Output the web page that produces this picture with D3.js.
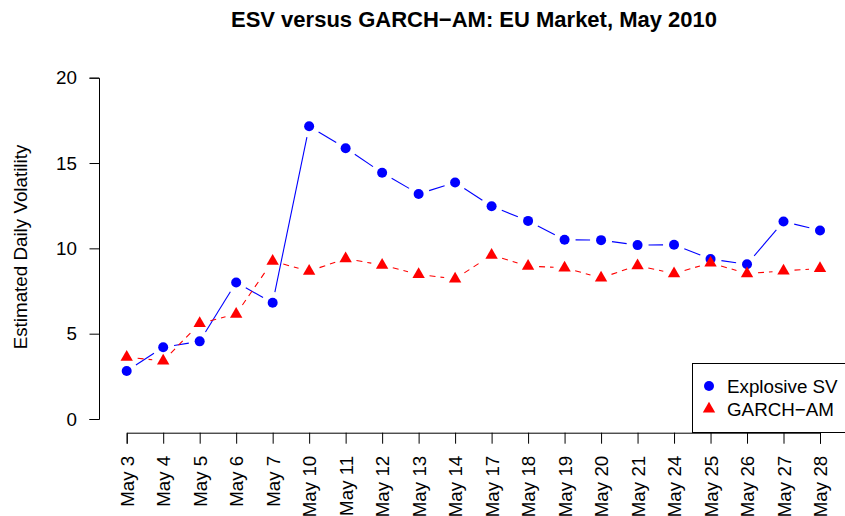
<!DOCTYPE html>
<html>
<head>
<meta charset="utf-8">
<script src="https://cdn.jsdelivr.net/npm/d3@7"></script>
<style>
  html, body { margin: 0; padding: 0; background: #fff; }
  svg { display: block; font-family: "Liberation Sans", Arial, Helvetica, sans-serif; }
</style>
</head>
<body>
<svg id="chart" width="845" height="516"></svg>
<script>
const categories = ["May 3","May 4","May 5","May 6","May 7","May 10","May 11","May 12","May 13","May 14",
  "May 17","May 18","May 19","May 20","May 21","May 24","May 25","May 26","May 27","May 28"];
const esvValues = [2.81, 4.20, 4.55, 8.00, 6.81, 17.15, 15.87, 14.43, 13.19, 13.86,
  12.47, 11.61, 10.50, 10.48, 10.19, 10.21, 9.37, 9.07, 11.57, 11.05];
const garchValues = [3.63, 3.40, 5.60, 6.15, 9.25, 8.66, 9.40, 9.02, 8.47, 8.21,
  9.60, 8.96, 8.86, 8.27, 8.99, 8.52, 9.15, 8.52, 8.68, 8.82];
const yTicks = [0, 5, 10, 15, 20];
const seriesNames = ["Explosive SV", "GARCH\u2212AM"];
const titleText = "ESV versus GARCH\u2212AM: EU Market, May 2010";
const yLabelText = "Estimated Daily Volatility";

const FS = "18.8px";
const svg = d3.select("#chart");
const x = d3.scalePoint().domain(categories).range([126.7, 820]);
const y = d3.scaleLinear().domain([0, 20]).range([419, 77.7]);

// Title
svg.append("text").attr("x", 474).attr("y", 27).attr("text-anchor", "middle")
  .style("font-weight", "bold").style("font-size", "22px").text(titleText);

// Y label
svg.append("text").attr("transform", "translate(27,247) rotate(-90)")
  .attr("text-anchor", "middle").style("font-size", FS).text(yLabelText);

// Y axis
const yAxis = svg.append("g").attr("transform", "translate(99,0)")
  .call(d3.axisLeft(y).tickValues(yTicks).tickSizeOuter(0).tickSize(9.5).tickPadding(12.5));
yAxis.selectAll("text").style("font-size", FS).style("font-family", "inherit").attr("fill", "#000");

// X axis
const xAxis = svg.append("g").attr("transform", "translate(0,432.7)")
  .call(d3.axisBottom(x).tickSizeOuter(0).tickSize(11));
xAxis.selectAll("text").style("font-size", FS).style("font-family", "inherit").attr("fill", "#000")
  .attr("text-anchor", "end").attr("transform", "rotate(-90)")
  .attr("x", -23).attr("y", 0).attr("dy", "0.35em");
svg.selectAll(".domain, .tick line").attr("stroke", "#000").attr("stroke-width", 1);

// Lines with gaps (type = "b")
const gap = 11;
function drawSegs(vals, color, dash) {
  const pts = vals.map((v, i) => [x(categories[i]), y(v)]);
  const segs = [];
  for (let i = 0; i < pts.length - 1; i++) {
    const [x0, y0] = pts[i], [x1, y1] = pts[i + 1];
    const dx = x1 - x0, dy = y1 - y0, L = Math.hypot(dx, dy);
    if (L > 2 * gap) {
      const ux = dx / L, uy = dy / L;
      segs.push([x0 + ux * gap, y0 + uy * gap, x1 - ux * gap, y1 - uy * gap]);
    }
  }
  svg.append("g").selectAll("line").data(segs).join("line")
    .attr("x1", d => d[0]).attr("y1", d => d[1]).attr("x2", d => d[2]).attr("y2", d => d[3])
    .attr("stroke", color).attr("stroke-width", 1.1)
    .attr("stroke-dasharray", dash);
}
drawSegs(esvValues, "#0000ff", null);
drawSegs(garchValues, "#ff0000", "6,5");

const r = 5;
const tr = 4.6;
function triPath(cx, cy, rr) {
  const a = 1.5551, b = 1.3468, c = 0.7776;
  return `M${cx},${cy - rr * a}L${cx + rr * b},${cy + rr * c}L${cx - rr * b},${cy + rr * c}Z`;
}
svg.append("g").selectAll("circle").data(esvValues).join("circle")
  .attr("cx", (d, i) => x(categories[i])).attr("cy", d => y(d)).attr("r", r).attr("fill", "#0000ff");
svg.append("g").selectAll("path").data(garchValues).join("path")
  .attr("d", (d, i) => triPath(x(categories[i]), y(d), tr)).attr("fill", "#ff0000");

// Legend
const lg = svg.append("g");
lg.append("rect").attr("x", 692.5).attr("y", 363.5).attr("width", 200).attr("height", 69)
  .attr("fill", "#fff").attr("stroke", "#000");
lg.append("circle").attr("cx", 709).attr("cy", 386).attr("r", r).attr("fill", "#0000ff");
lg.append("path").attr("d", triPath(709, 409, tr)).attr("fill", "#ff0000");
lg.append("text").attr("x", 727).attr("y", 386).attr("dy", "0.35em").style("font-size", FS).text(seriesNames[0]);
lg.append("text").attr("x", 727).attr("y", 409).attr("dy", "0.35em").style("font-size", FS).text(seriesNames[1]);
</script>
</body>
</html>
